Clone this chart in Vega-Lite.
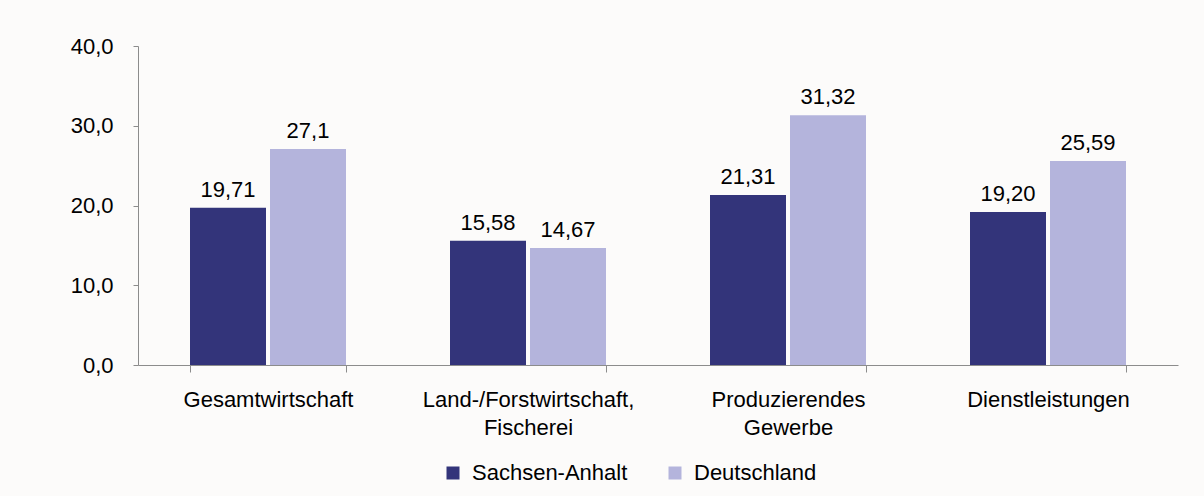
{
  "$schema": "https://vega.github.io/schema/vega-lite/v6.json",
  "autosize": {"type": "none"},
  "padding": {"left": 138, "top": 46, "right": 26, "bottom": 131},
  "width": 1040,
  "height": 319,
  "background": "#fcfbfa",
  "config": {
    "view": {"stroke": null},
    "font": "Liberation Sans",
    "axis": {"labelFont": "Liberation Sans", "labelColor": "#000000", "domainColor": "#8c8c8c", "tickColor": "#8c8c8c", "grid": false, "labelLimit": 0}
  },
  "data": {
    "values": [
      {"sektor": "Gesamtwirtschaft", "region": "Sachsen-Anhalt", "wert": 19.71, "label": "19,71"},
      {"sektor": "Gesamtwirtschaft", "region": "Deutschland", "wert": 27.1, "label": "27,1"},
      {"sektor": "Land-/Forstwirtschaft,|Fischerei", "region": "Sachsen-Anhalt", "wert": 15.58, "label": "15,58"},
      {"sektor": "Land-/Forstwirtschaft,|Fischerei", "region": "Deutschland", "wert": 14.67, "label": "14,67"},
      {"sektor": "Produzierendes|Gewerbe", "region": "Sachsen-Anhalt", "wert": 21.31, "label": "21,31"},
      {"sektor": "Produzierendes|Gewerbe", "region": "Deutschland", "wert": 31.32, "label": "31,32"},
      {"sektor": "Dienstleistungen", "region": "Sachsen-Anhalt", "wert": 19.2, "label": "19,20"},
      {"sektor": "Dienstleistungen", "region": "Deutschland", "wert": 25.59, "label": "25,59"}
    ]
  },
  "encoding": {
    "x": {
      "field": "sektor", "type": "nominal", "sort": null, "title": null,
      "scale": {"paddingInner": 0.4, "paddingOuter": 0.2},
      "axis": {"labelAngle": 0, "tickBand": "extent", "tickSize": 7, "labelFontSize": 22, "labelPadding": 17, "labelLineHeight": 28, "labelBaseline": "top", "labelExpr": "split(datum.label, '|')"}
    },
    "xOffset": {"field": "region", "type": "nominal", "sort": ["Sachsen-Anhalt", "Deutschland"], "scale": {"paddingInner": 0.05}},
    "y": {
      "field": "wert", "type": "quantitative", "title": null,
      "scale": {"domain": [0, 40]},
      "axis": {"values": [0, 10, 20, 30, 40], "tickSize": 5, "labelFontSize": 22, "labelPadding": 20, "labelExpr": "replace(format(datum.value, '.1f'), '.', ',')"}
    }
  },
  "layer": [
    {
      "mark": {"type": "bar"},
      "encoding": {
        "color": {
          "field": "region", "type": "nominal", "sort": ["Sachsen-Anhalt", "Deutschland"],
          "scale": {"domain": ["Sachsen-Anhalt", "Deutschland"], "range": ["#33347a", "#b4b4dc"]},
          "legend": {"title": null, "orient": "none", "direction": "horizontal", "legendX": 304, "legendY": 416, "symbolType": "square", "symbolSize": 169, "symbolStrokeWidth": 0, "labelFontSize": 22, "labelFont": "Liberation Sans", "labelColor": "#000000", "labelOffset": 8, "columnPadding": 36, "labelLimit": 0}
        }
      }
    },
    {
      "mark": {"type": "text", "baseline": "alphabetic", "dy": -11, "fontSize": 22, "color": "#000000"},
      "encoding": {"text": {"field": "label"}}
    }
  ]
}
